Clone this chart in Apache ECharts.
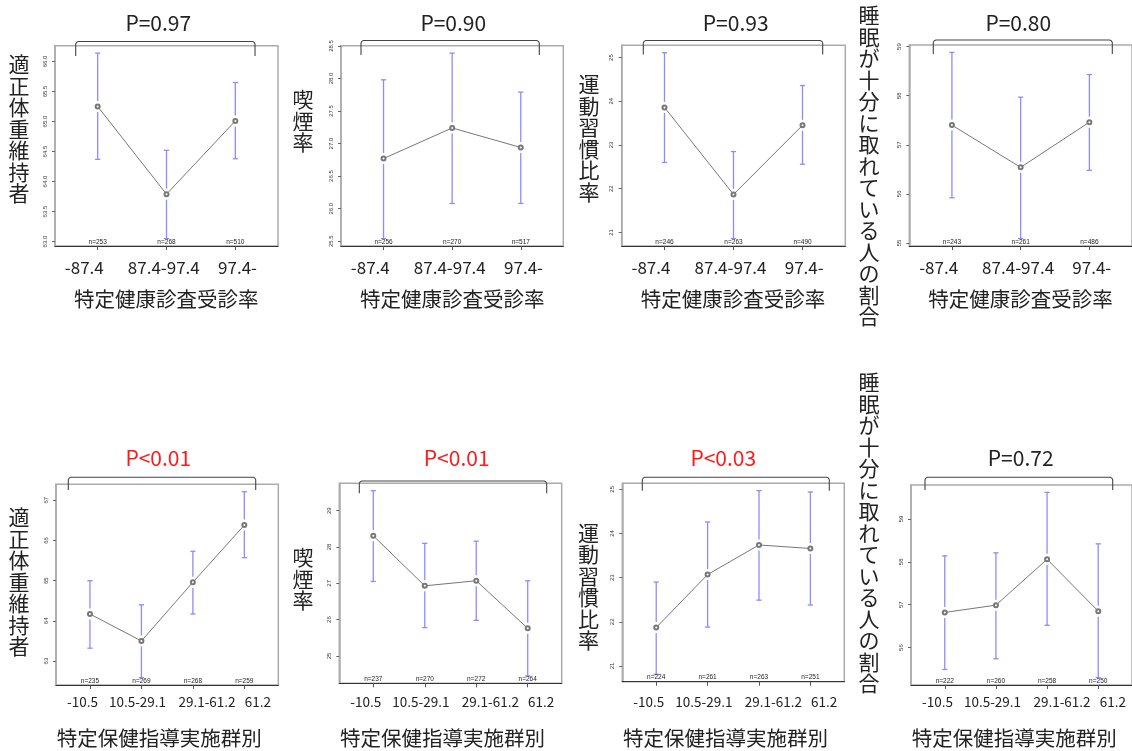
<!DOCTYPE html>
<html><head><meta charset="utf-8">
<script src="https://cdn.jsdelivr.net/npm/echarts@6/dist/echarts.min.js"></script>
<style>html,body{margin:0;padding:0;background:#fff}#c{width:1132px;height:751px}</style>
</head><body><div id="c"></div>
<script>
// ---------- data ----------
const topGroups = ['-87.4', '87.4-97.4', '97.4-'];
const botGroups = ['-10.5', '10.5-29.1', '29.1-61.2', '61.2'];
const topXTitle = '特定健康診査受診率';
const botXTitle = '特定保健指導実施群別';
const yTitles = ['適正体重維持者', '喫煙率', '運動習慣比率', '睡眠が十分に取れている人の割合'];
const pTexts = ['P=0.97', 'P=0.90', 'P=0.93', 'P=0.80', 'P<0.01', 'P<0.01', 'P<0.03', 'P=0.72'];
const pSignificant = [false, false, false, false, true, true, true, false];

// top row (特定健康診査受診率)
const weightMeanA = [65.25, 63.79, 65.01];
const weightLowA  = [64.37, 63.05, 64.38];
const weightHighA = [66.14, 64.52, 65.65];
const weightNA    = [253, 268, 510];
const smokeMeanA = [26.77, 27.24, 26.94];
const smokeLowA  = [25.54, 26.08, 26.08];
const smokeHighA = [27.98, 28.39, 27.79];
const smokeNA    = [256, 270, 517];
const exerMeanA = [23.86, 21.87, 23.45];
const exerLowA  = [22.60, 20.86, 22.56];
const exerHighA = [25.11, 22.85, 24.36];
const exerNA    = [246, 263, 490];
const sleepMeanA = [57.40, 56.54, 57.46];
const sleepLowA  = [55.92, 55.09, 56.48];
const sleepHighA = [58.88, 57.97, 58.43];
const sleepNA    = [243, 261, 486];
// bottom row (特定保健指導実施群別)
const weightMeanB = [64.17, 63.50, 64.96, 66.38];
const weightLowB  = [63.32, 62.59, 64.17, 65.57];
const weightHighB = [65.00, 64.40, 65.73, 67.21];
const weightNB    = [235, 269, 268, 259];
const smokeMeanB = [28.31, 26.93, 27.07, 25.76];
const smokeLowB  = [27.05, 25.78, 25.98, 24.45];
const smokeHighB = [29.55, 28.10, 28.16, 27.07];
const smokeNB    = [237, 270, 272, 264];
const exerMeanB = [21.87, 23.07, 23.74, 23.66];
const exerLowB  = [20.81, 21.88, 22.49, 22.38];
const exerHighB = [22.90, 24.26, 24.97, 24.94];
const exerNB    = [224, 261, 263, 251];
const sleepMeanB = [56.82, 56.99, 58.06, 56.85];
const sleepLowB  = [55.49, 55.74, 56.52, 55.30];
const sleepHighB = [58.14, 58.21, 59.62, 58.42];
const sleepNB    = [222, 260, 258, 250];

// y tick labels
const yTicks1 = ['63.0','63.5','64.0','64.5','65.0','65.5','66.0'];
const yTicks2 = ['25.5','26.0','26.5','27.0','27.5','28.0','28.5'];
const yTicks3 = ['21','22','23','24','25'];
const yTicks4 = ['55','56','57','58','59'];
const yTicks5 = ['63','64','65','66','67'];
const yTicks6 = ['25','26','27','28','29'];
const yTicks7 = ['21','22','23','24','25'];
const yTicks8 = ['56','57','58','59'];

const panels = [
  {mean: weightMeanA, low: weightLowA, high: weightHighA, n: weightNA, ticks: yTicks1, row: 0, col: 0},
  {mean: smokeMeanA,  low: smokeLowA,  high: smokeHighA,  n: smokeNA,  ticks: yTicks2, row: 0, col: 1},
  {mean: exerMeanA,   low: exerLowA,   high: exerHighA,   n: exerNA,   ticks: yTicks3, row: 0, col: 2},
  {mean: sleepMeanA,  low: sleepLowA,  high: sleepHighA,  n: sleepNA,  ticks: yTicks4, row: 0, col: 3},
  {mean: weightMeanB, low: weightLowB, high: weightHighB, n: weightNB, ticks: yTicks5, row: 1, col: 0},
  {mean: smokeMeanB,  low: smokeLowB,  high: smokeHighB,  n: smokeNB,  ticks: yTicks6, row: 1, col: 1},
  {mean: exerMeanB,   low: exerLowB,   high: exerHighB,   n: exerNB,   ticks: yTicks7, row: 1, col: 2},
  {mean: sleepMeanB,  low: sleepLowB,  high: sleepHighB,  n: sleepNB,  ticks: yTicks8, row: 1, col: 3}
];

// ---------- layout ----------
const boxes = [
  [55, 45.7, 223, 200.3], [341, 45.7, 222.3, 200.3], [621.7, 45.3, 223.6, 200.7], [909.3, 45, 223, 201],
  [56, 484.3, 222.3, 200.7], [339.3, 483.3, 222.4, 200], [622.3, 483.3, 222, 198.4], [911, 485, 222, 200]
];
const brackets = [
  [75.7, 255, 41.5, 56], [361, 539.3, 40.5, 55], [643.3, 822.7, 40.5, 54.5], [933.3, 1112.3, 40, 54],
  [68.3, 255.7, 477.3, 490], [359.3, 546.7, 481, 493.3], [642.3, 829.3, 477.3, 490.7], [925, 1112.7, 477.3, 490]
];
const pPos = [[158.3, 23], [453.3, 23], [735.7, 23], [1018.3, 23], [158.3, 458.5], [456.7, 458.5], [723.3, 458.5], [1020.7, 458.5]];
const yTitlePos = [[19, 129], [303, 121], [589, 138], [869, 166], [19, 582], [303, 579], [588.5, 586.5], [869, 533]];

const FONT = '"Noto Sans CJK JP", "Noto Sans", sans-serif';
const ERR_COLOR = '#8c8cff';

function errRender(params, api) {
  const x = api.value(0), lo = api.value(1), hi = api.value(2), m = api.value(3), n = api.value(4);
  const pT = api.coord([x, hi]), pB = api.coord([x, lo]), pM = api.coord([x, m]);
  const cs = params.coordSys;
  const cap = 2.6, gap = 5.5;
  const st = {stroke: ERR_COLOR, lineWidth: 1.3};
  return {type: 'group', children: [
    {type: 'line', shape: {x1: pT[0], y1: pT[1], x2: pT[0], y2: pM[1] - gap}, style: st},
    {type: 'line', shape: {x1: pT[0], y1: pM[1] + gap, x2: pT[0], y2: pB[1]}, style: st},
    {type: 'line', shape: {x1: pT[0] - cap, y1: pT[1], x2: pT[0] + cap, y2: pT[1]}, style: st},
    {type: 'line', shape: {x1: pT[0] - cap, y1: pB[1], x2: pT[0] + cap, y2: pB[1]}, style: st},
    {type: 'text', style: {text: 'n=' + n, x: pT[0], y: cs.y + cs.height - 4, align: 'center', verticalAlign: 'middle',
      fontSize: 6.5, fontFamily: 'Liberation Sans, sans-serif', fill: '#222'}}
  ]};
}

const grids = [], xAxes = [], yAxes = [], series = [], graphics = [];
panels.forEach((p, i) => {
  const b = boxes[i];
  const k = p.mean.length;
  grids.push({left: b[0], top: b[1], width: b[2], height: b[3], show: true, borderColor: '#ababab', borderWidth: 1.5, backgroundColor: 'transparent'});
  const xs = p.mean.map((_, j) => j + 1);
  xAxes.push({gridIndex: i, type: 'value', min: 0.5 - 0.04 * k, max: k + 0.5 + 0.04 * k,
    axisLine: {show: true, onZero: false, lineStyle: {color: '#333', width: 1.2}},
    axisTick: {show: true, inside: false, length: 4, customValues: xs, lineStyle: {color: '#555'}},
    axisLabel: {show: false}, splitLine: {show: false}});
  const lo = Math.min(...p.low), hi = Math.max(...p.high), pad = 0.04 * (hi - lo);
  const tv = p.ticks.map(Number);
  yAxes.push({gridIndex: i, type: 'value', min: lo - pad, max: hi + pad,
    axisLine: {show: true, lineStyle: {color: '#ababab', width: 1.5}},
    axisTick: {show: true, length: 3, customValues: tv, lineStyle: {color: '#666'}},
    axisLabel: {show: true, customValues: tv, rotate: 90, fontSize: 6, color: '#333', margin: 7,
      fontFamily: 'Liberation Sans, sans-serif',
      formatter: v => { const idx = tv.findIndex(t => Math.abs(t - v) < 1e-6); return idx >= 0 ? p.ticks[idx] : ''; }},
    splitLine: {show: false}});
  series.push({type: 'custom', xAxisIndex: i, yAxisIndex: i, renderItem: errRender, z: 2,
    data: xs.map((x, j) => [x, p.low[j], p.high[j], p.mean[j], p.n[j]])});
  series.push({type: 'line', xAxisIndex: i, yAxisIndex: i, z: 3, symbol: 'emptyCircle', symbolSize: 4,
    lineStyle: {color: '#777', width: 1}, itemStyle: {color: '#777', borderWidth: 0.7},
    data: xs.map((x, j) => [x, p.mean[j]])});

  // bracket
  const br = brackets[i], r = 2.5;
  graphics.push({type: 'polyline', z: 10, shape: {points: [
    [br[0], br[3]], [br[0], br[2] + r], [br[0] + 0.8, br[2] + 0.8], [br[0] + r, br[2]],
    [br[1] - r, br[2]], [br[1] - 0.8, br[2] + 0.8], [br[1], br[2] + r], [br[1], br[3]]]},
    style: {stroke: '#444', lineWidth: 1.1, fill: null}});
  // P text
  graphics.push({type: 'text', x: pPos[i][0], y: pPos[i][1], z: 10, style: {text: pTexts[i], align: 'center', verticalAlign: 'middle',
    font: `21px ${FONT}`, fill: pSignificant[i] ? '#ff1a1a' : '#222'}});
  // y title (vertical)
  const yt = yTitles[p.col];
  graphics.push({type: 'text', x: yTitlePos[i][0], y: yTitlePos[i][1], z: 10, style: {text: yt.split('').join('\n'),
    align: 'center', verticalAlign: 'middle', font: `21px ${FONT}`, lineHeight: 21.5, fill: '#222'}});
  // x category labels + title
  const groups = p.row === 0 ? topGroups : botGroups;
  const rel = p.row === 0 ? [29.3, 108.8, 182.5] : [26.5, 81.5, 151, 201.8];
  const ly = p.row === 0 ? 268 : 702;
  groups.forEach((g, j) => {
    graphics.push({type: 'text', x: b[0] + rel[j], y: ly, z: 10, style: {text: g, align: 'center', verticalAlign: 'middle',
      font: `${p.row === 0 ? 17 : 13.5}px ${FONT}`, fill: '#222'}});
  });
  graphics.push({type: 'text', x: b[0] + (p.row === 0 ? 111.2 : 103.2), y: p.row === 0 ? 299 : 738, z: 10,
    style: {text: p.row === 0 ? topXTitle : botXTitle, align: 'center', verticalAlign: 'middle', font: `20.5px ${FONT}`, fill: '#222'}});
});

const chart = echarts.init(document.getElementById('c'), null, {renderer: 'canvas'});
chart.setOption({
  animation: false,
  backgroundColor: '#fff',
  grid: grids, xAxis: xAxes, yAxis: yAxes, series: series, graphic: graphics
});
</script>
</body></html>
